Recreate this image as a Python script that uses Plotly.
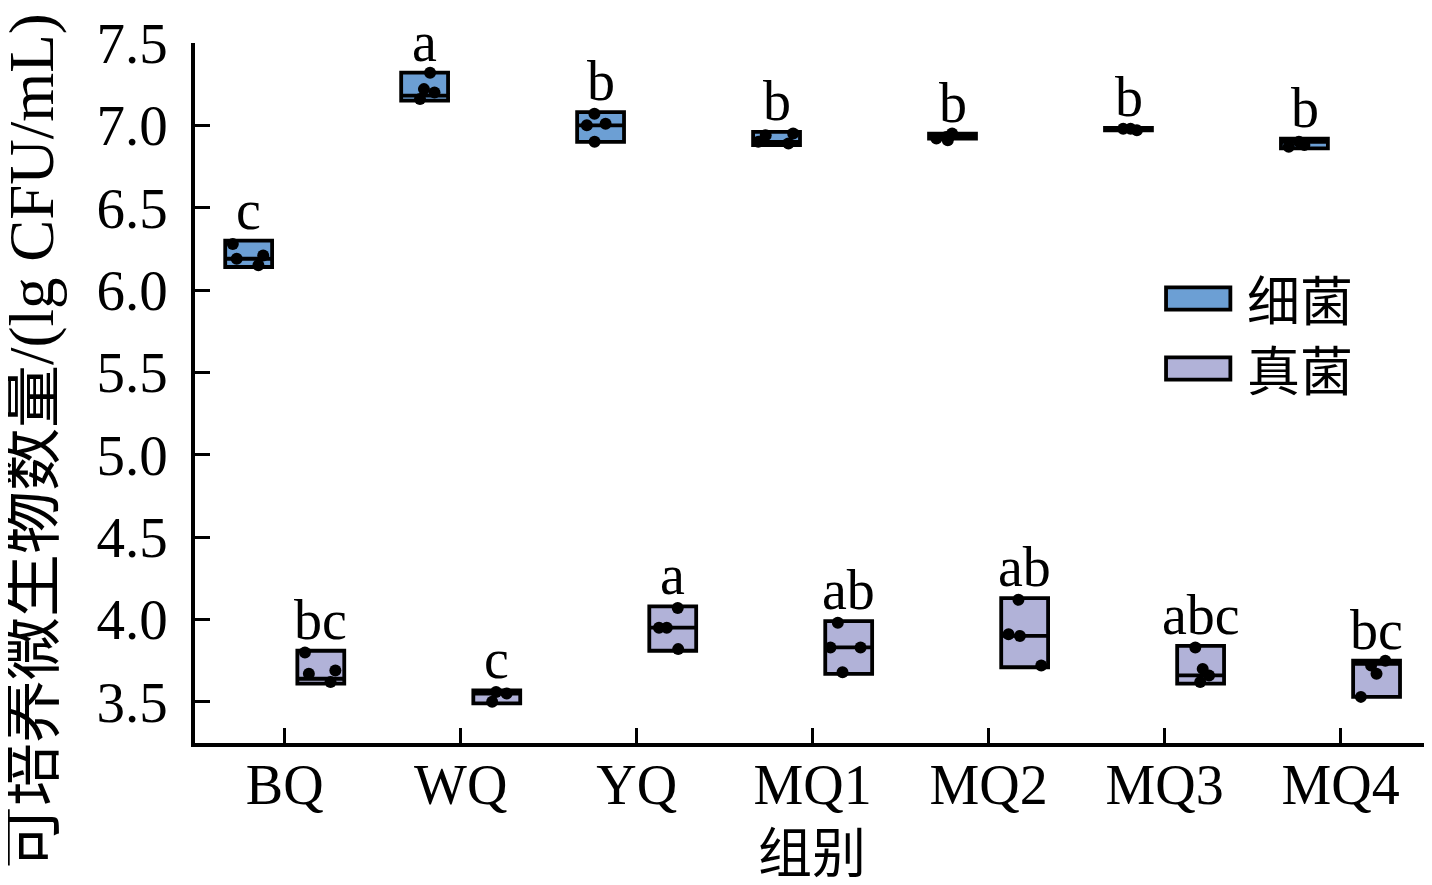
import plotly.graph_objects as go

# groups and letters
groups = ["BQ", "WQ", "YQ", "MQ1", "MQ2", "MQ3", "MQ4"]

# bacteria (细菌) box stats, lg CFU/mL
bac_low = [6.14, 7.15, 6.90, 6.88, 6.92, 6.97, 6.86]
bac_mid = [6.19, 7.18, 7.00, 6.90, 6.93, 6.975, 6.90]
bac_high = [6.30, 7.32, 7.08, 6.96, 6.95, 6.985, 6.92]
bac_pts = [
    [6.28, 6.21, 6.19, 6.15],
    [7.32, 7.22, 7.20, 7.16],
    [7.07, 7.00, 7.01, 6.90],
    [6.95, 6.94, 6.90, 6.89],
    [6.95, 6.93, 6.92, 6.91],
    [6.98, 6.98, 6.97],
    [6.90, 6.88, 6.87],
]
bac_letters = ["c", "a", "b", "b", "b", "b", "b"]

# fungi (真菌)
fun_low = [3.61, 3.49, 3.81, 3.67, 3.71, 3.61, 3.53]
fun_mid = [3.64, 3.55, 3.95, 3.83, 3.90, 3.66, 3.73]
fun_high = [3.81, 3.57, 4.08, 3.99, 4.13, 3.84, 3.75]
fun_pts = [
    [3.80, 3.69, 3.67, 3.62],
    [3.56, 3.55, 3.50],
    [4.07, 3.95, 3.95, 3.82],
    [3.98, 3.83, 3.83, 3.68],
    [4.12, 3.91, 3.90, 3.72],
    [3.83, 3.70, 3.66, 3.62],
    [3.75, 3.72, 3.67, 3.53],
]
fun_letters = ["bc", "c", "a", "ab", "ab", "abc", "bc"]

y_ticks = [3.5, 4.0, 4.5, 5.0, 5.5, 6.0, 6.5, 7.0, 7.5]

BAC_COLOR = "#6c9fd4"
FUN_COLOR = "#b1b2d8"
SERIF = "Liberation Serif, Noto Sans CJK SC"
CJK = "Noto Sans CJK SC"

fig = go.Figure()

series = [
    ("细菌", "b", BAC_COLOR, bac_low, bac_mid, bac_high, bac_pts),
    ("真菌", "f", FUN_COLOR, fun_low, fun_mid, fun_high, fun_pts),
]

for name, grp, color, lo, mid, hi, pts in series:
    # the box: low..high with a line at mid, no whiskers
    fig.add_trace(go.Box(
        x=groups, q1=lo, median=mid, q3=hi, lowerfence=lo, upperfence=hi,
        name=name, offsetgroup=grp, fillcolor=color,
        line=dict(color="black", width=3.8), whiskerwidth=0,
        boxpoints=False, showlegend=False,
    ))
    # the raw points, jittered inside the box
    xs = [g for g, p in zip(groups, pts) for _ in p]
    ys = [v for p in pts for v in p]
    fig.add_trace(go.Box(
        x=xs, y=ys, name=name, offsetgroup=grp,
        boxpoints="all", jitter=0.8, pointpos=0,
        fillcolor="rgba(0,0,0,0)", line=dict(color="rgba(0,0,0,0)", width=0),
        marker=dict(color="black", size=12), showlegend=False,
    ))

# significance letters above each box
for letters, hi, shift in [(bac_letters, bac_high, -36), (fun_letters, fun_high, 36)]:
    for g, t, top in zip(groups, letters, hi):
        fig.add_annotation(
            x=g, y=top, text=t, showarrow=False, xshift=shift,
            yanchor="bottom", yshift=-2,
            font=dict(family=SERIF, size=56, color="black"),
        )

# hand-made legend with wide swatches
for i, (name, color) in enumerate([("细菌", BAC_COLOR), ("真菌", FUN_COLOR)]):
    y0 = 0.619 - i * 0.1
    fig.add_shape(type="rect", xref="paper", yref="paper",
                  x0=0.785, x1=0.837, y0=y0, y1=y0 + 0.032,
                  fillcolor=color, line=dict(color="black", width=3.8))
    fig.add_annotation(xref="paper", yref="paper", x=0.849, y=y0 + 0.017,
                       text=name, showarrow=False, xanchor="left", yanchor="middle",
                       font=dict(family=CJK, size=53, color="black"))

# axis titles as annotations so they sit where the reference has them
fig.add_annotation(xref="paper", yref="paper", x=0.499, y=0, yshift=-106,
                   text="组别", showarrow=False, xanchor="center", yanchor="middle",
                   font=dict(family=CJK, size=54, color="black"))
fig.add_annotation(xref="paper", yref="paper", x=0, xshift=-163, y=0.5, yshift=-48,
                   text="可培养微生物数量/(lg CFU/mL)", textangle=-90, showarrow=False,
                   xanchor="center", yanchor="middle",
                   font=dict(family=SERIF, size=63, color="black"))

# page body adds an 8px margin, so the figure is 8px smaller than the window
fig.update_layout(
    width=1424, height=877,
    margin=dict(l=187, r=0, t=35, b=142, autoexpand=False),
    plot_bgcolor="white", paper_bgcolor="white",
    boxmode="group", boxgap=0.18, boxgroupgap=0.35,
    showlegend=False,
    font=dict(family=SERIF, color="black"),
)
fig.update_xaxes(
    range=[-0.51, 6.52], showline=True, linecolor="black", linewidth=3.5,
    ticks="inside", ticklen=15, tickwidth=3, tickcolor="black",
    tickfont=dict(family=SERIF, size=56), ticklabelstandoff=-10,
    showgrid=False, zeroline=False, automargin=False,
)
fig.update_yaxes(
    range=[3.25, 7.5], tickvals=y_ticks, ticktext=[f"{v:.1f}" for v in y_ticks],
    showline=True, linecolor="black", linewidth=3.5,
    ticks="inside", ticklen=15, tickwidth=3, tickcolor="black",
    tickfont=dict(family=SERIF, size=57), ticklabelstandoff=12,
    showgrid=False, zeroline=False, automargin=False,
)

fig.write_html("out.html")
